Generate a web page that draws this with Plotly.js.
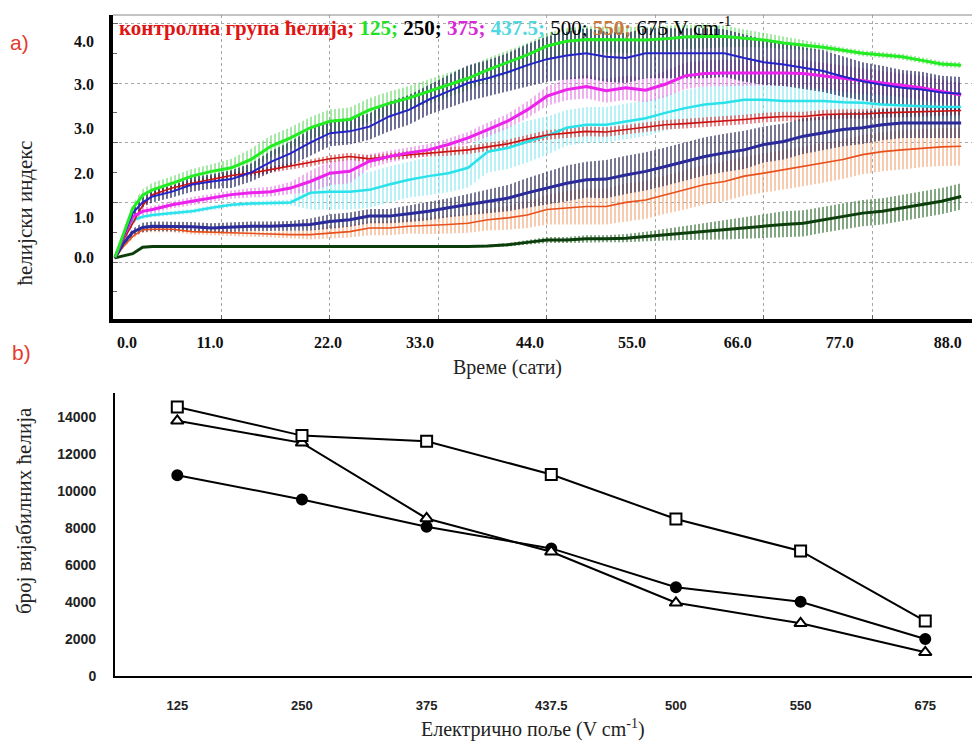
<!DOCTYPE html>
<html>
<head>
<meta charset="utf-8">
<script src="https://cdn.plot.ly/plotly-3.0.1.min.js"></script>
<style>html,body{margin:0;padding:0;background:#fff}</style>
</head>
<body>
<div id="chart" style="width:972px;height:743px"></div>
<script>
// ---------- Panel a: cell index vs time (hours) ----------
const timeH = [0.2,1,2,3,4,6,8,10,12,14,16,18,20,22,24,26,28,30,32,34,36,38,40,42,44,46,48,50,52,54,56,58,60,62,64,66,68,70,72,74,76,78,80,82,84,86];

const ciControl = [0.06,0.35,0.65,0.95,1.13,1.24,1.32,1.39,1.45,1.49,1.55,1.60,1.66,1.73,1.77,1.73,1.77,1.80,1.83,1.85,1.88,1.93,1.98,2.06,2.13,2.16,2.19,2.18,2.22,2.25,2.30,2.32,2.34,2.36,2.39,2.42,2.44,2.44,2.47,2.48,2.48,2.50,2.51,2.53,2.54,2.54];
const errControl = [0.02,0.03,0.04,0.05,0.05,0.05,0.05,0.05,0.05,0.05,0.05,0.05,0.06,0.06,0.06,0.06,0.06,0.06,0.06,0.07,0.07,0.07,0.07,0.07,0.08,0.08,0.08,0.08,0.08,0.08,0.08,0.08,0.08,0.08,0.08,0.08,0.08,0.08,0.08,0.08,0.08,0.08,0.08,0.08,0.08,0.08];

const ci125 = [0.08,0.45,0.90,1.12,1.21,1.32,1.44,1.52,1.58,1.72,1.94,2.08,2.25,2.36,2.39,2.55,2.66,2.75,2.86,2.97,3.08,3.22,3.34,3.47,3.62,3.70,3.73,3.73,3.73,3.72,3.74,3.77,3.78,3.78,3.75,3.72,3.67,3.64,3.60,3.55,3.50,3.47,3.44,3.38,3.32,3.30];
const err125 = [0.02,0.05,0.08,0.10,0.12,0.12,0.12,0.12,0.15,0.18,0.18,0.18,0.18,0.20,0.20,0.20,0.20,0.20,0.20,0.20,0.20,0.20,0.20,0.20,0.22,0.22,0.22,0.22,0.22,0.22,0.22,0.20,0.20,0.18,0.15,0.12,0.10,0.08,0.06,0.05,0.05,0.05,0.05,0.05,0.05,0.05];

const ci250 = [0.08,0.42,0.82,1.00,1.10,1.18,1.30,1.35,1.39,1.50,1.68,1.82,2.00,2.16,2.19,2.27,2.44,2.55,2.72,2.86,3.00,3.08,3.18,3.30,3.40,3.46,3.50,3.44,3.42,3.50,3.50,3.51,3.50,3.50,3.42,3.35,3.31,3.25,3.20,3.11,3.03,2.97,2.92,2.89,2.84,2.82];
const err250 = [0.02,0.04,0.06,0.08,0.10,0.10,0.12,0.12,0.15,0.15,0.18,0.20,0.22,0.22,0.22,0.22,0.25,0.25,0.25,0.28,0.30,0.30,0.32,0.35,0.38,0.40,0.42,0.42,0.42,0.42,0.42,0.42,0.42,0.40,0.40,0.38,0.36,0.35,0.35,0.34,0.32,0.32,0.30,0.30,0.28,0.28];

const ci375 = [0.08,0.40,0.76,0.85,0.88,0.96,1.02,1.07,1.13,1.16,1.18,1.24,1.35,1.49,1.52,1.69,1.77,1.83,1.88,1.97,2.08,2.22,2.36,2.55,2.78,2.89,2.94,2.87,2.92,2.88,2.98,3.12,3.16,3.17,3.17,3.18,3.17,3.16,3.12,3.08,3.03,3.00,2.96,2.92,2.86,2.80];
const err375 = [0.02,0.03,0.05,0.06,0.06,0.06,0.07,0.07,0.07,0.08,0.08,0.10,0.18,0.20,0.20,0.12,0.10,0.10,0.10,0.10,0.10,0.12,0.12,0.14,0.16,0.18,0.20,0.20,0.20,0.20,0.22,0.22,0.22,0.22,0.22,0.22,0.22,0.22,0.22,0.22,0.22,0.20,0.20,0.20,0.20,0.20];

const ci437 = [0.08,0.38,0.70,0.76,0.79,0.82,0.85,0.91,0.96,0.98,0.99,1.00,1.16,1.18,1.18,1.21,1.30,1.38,1.44,1.49,1.58,1.85,1.91,2.02,2.12,2.25,2.30,2.30,2.36,2.41,2.50,2.58,2.64,2.67,2.72,2.72,2.70,2.70,2.70,2.68,2.67,2.64,2.62,2.61,2.60,2.60];
const err437 = [0.02,0.03,0.04,0.04,0.04,0.04,0.04,0.04,0.04,0.04,0.04,0.05,0.28,0.30,0.30,0.30,0.30,0.30,0.32,0.32,0.33,0.35,0.35,0.35,0.32,0.30,0.30,0.30,0.30,0.30,0.30,0.30,0.30,0.28,0.28,0.26,0.25,0.24,0.22,0.22,0.20,0.20,0.20,0.20,0.20,0.20];

const ci500 = [0.07,0.30,0.50,0.58,0.60,0.60,0.59,0.57,0.59,0.60,0.60,0.61,0.63,0.68,0.71,0.77,0.77,0.81,0.85,0.91,0.96,1.02,1.07,1.16,1.24,1.32,1.38,1.39,1.46,1.52,1.60,1.69,1.77,1.83,1.88,1.97,2.02,2.11,2.16,2.22,2.25,2.30,2.33,2.33,2.33,2.33];
const err500 = [0.02,0.04,0.06,0.08,0.08,0.08,0.08,0.08,0.08,0.08,0.08,0.08,0.10,0.12,0.12,0.12,0.12,0.14,0.15,0.16,0.18,0.20,0.22,0.25,0.28,0.30,0.30,0.32,0.32,0.32,0.32,0.32,0.32,0.32,0.32,0.30,0.30,0.30,0.28,0.28,0.27,0.26,0.25,0.25,0.25,0.25];

const ci550 = [0.06,0.25,0.43,0.54,0.55,0.55,0.51,0.50,0.49,0.47,0.46,0.46,0.46,0.49,0.51,0.57,0.57,0.60,0.61,0.63,0.65,0.71,0.74,0.79,0.88,0.91,0.93,0.93,1.00,1.04,1.13,1.21,1.30,1.35,1.44,1.49,1.55,1.60,1.66,1.72,1.80,1.85,1.88,1.91,1.93,1.94];
const err550 = [0.02,0.03,0.04,0.05,0.05,0.05,0.05,0.05,0.05,0.05,0.05,0.06,0.08,0.10,0.10,0.12,0.12,0.12,0.14,0.15,0.16,0.18,0.20,0.22,0.25,0.28,0.30,0.30,0.32,0.32,0.32,0.33,0.33,0.33,0.33,0.33,0.33,0.33,0.33,0.33,0.33,0.33,0.33,0.32,0.32,0.32];

const ci675 = [0.07,0.10,0.14,0.25,0.26,0.26,0.26,0.26,0.26,0.25,0.25,0.26,0.26,0.26,0.25,0.25,0.26,0.26,0.26,0.26,0.26,0.27,0.29,0.33,0.37,0.37,0.39,0.39,0.40,0.43,0.46,0.49,0.51,0.54,0.57,0.60,0.63,0.65,0.71,0.77,0.82,0.85,0.91,0.96,1.02,1.10];
const err675 = [0.01,0.01,0.01,0.01,0.01,0.01,0.01,0.01,0.01,0.01,0.01,0.01,0.01,0.01,0.01,0.01,0.01,0.01,0.01,0.01,0.02,0.02,0.03,0.04,0.05,0.05,0.06,0.06,0.07,0.08,0.10,0.12,0.14,0.16,0.18,0.20,0.22,0.22,0.22,0.22,0.22,0.22,0.22,0.22,0.22,0.22];

// tick labels as printed on panel a (placed where they appear)
const timeTickText = ['0.0','11.0','22.0','33.0','44.0','55.0','66.0','77.0','88.0'];
const timeTickPos  = [1.42,9.83,21.80,31.12,42.28,52.62,63.36,73.70,84.65];
const indexTickText = ['0.0','1.0','2.0','3.0','3.0','4.0'];
const indexTickPos  = [0.07,0.75,1.49,2.24,2.98,3.70];

// ---------- Panel b: viable cells vs electric field ----------
const fieldLabels = ['125','250','375','437.5','500','550','675'];
const cellsSquare   = [14550,13000,12700,10900,8490,6760,2970];
const cellsTriangle = [13800,12610,8520,6720,3960,2850,1280];
const cellsCircle   = [10860,9550,8070,6900,4800,4020,2000];
const cellTicks = [0,2000,4000,6000,8000,10000,12000,14000];
const cellTickText = ['0','2000','4000','6000','8000','10000','12000','14000'];

// ---------- styles ----------
const S = {
  control:{y:ciControl,e:errControl,name:'контролна група ћелија',line:'#cc1212',w:1.6,bar:'#d23c3c'},
  f125:{y:ci125,e:err125,name:'125 V cm-1',line:'#22ec22',w:3,bar:'#6ada6a'},
  f250:{y:ci250,e:err250,name:'250 V cm-1',line:'#2424c8',w:2,bar:'#0c0c4c'},
  f375:{y:ci375,e:err375,name:'375 V cm-1',line:'#ec22ec',w:3,bar:'#e27ae2'},
  f437:{y:ci437,e:err437,name:'437.5 V cm-1',line:'#2ae2ea',w:2.5,bar:'#8ae8f0'},
  f500:{y:ci500,e:err500,name:'500 V cm-1',line:'#2a2a9c',w:3,bar:'#1c1c48'},
  f550:{y:ci550,e:err550,name:'550 V cm-1',line:'#e8501c',w:1.6,bar:'#f2a878'},
  f675:{y:ci675,e:err675,name:'675 V cm-1',line:'#0c3e0c',w:3,bar:'#2e6a2e'}
};
const bandOrder = ['f437','f550','f375','f125','control','f250','f500','f675'];
const lineOrder = ['f437','f550','control','f500','f675','f375','f250','f125'];

const traces = [];
bandOrder.forEach(k => {
  const s = S[k];
  const lo = s.y.map((v,i) => v - s.e[i]);
  const hi = s.y.map((v,i) => v + s.e[i]);
  traces.push({x:timeH, y:lo, xaxis:'x', yaxis:'y', mode:'lines', line:{width:0,color:s.bar},
    showlegend:false, hoverinfo:'skip'});
  traces.push({x:timeH, y:hi, xaxis:'x', yaxis:'y', mode:'lines', line:{width:0,color:s.bar},
    fill:'tonexty', fillcolor:'rgba(0,0,0,0)',
    fillpattern:{shape:'|', fgcolor:s.bar, bgcolor:'rgba(0,0,0,0)', size:4, solidity:0.3},
    showlegend:false, hoverinfo:'skip'});
});
lineOrder.forEach(k => {
  const s = S[k];
  traces.push({x:timeH, y:s.y, xaxis:'x3', yaxis:'y3', mode:'lines', name:s.name,
    line:{color:s.line, width:s.w}, showlegend:false});
});

const mk = (y, sym, size, fill, name) => ({
  x:fieldLabels, y:y, xaxis:'x2', yaxis:'y2', mode:'lines+markers', name:name,
  line:{color:'#000', width:2},
  marker:{symbol:sym, size:size, color:fill, line:{color:'#000', width:2}},
  showlegend:false, cliponaxis:false
});
traces.push(mk(cellsCircle,'circle',10,'#000','●'));
traces.push(mk(cellsTriangle,'triangle-up',11,'#fff','△'));
traces.push(mk(cellsSquare,'square',11,'#fff','□'));

const serif = 'Liberation Serif, Times New Roman, serif';
const sans = 'Liberation Sans, Arial, sans-serif';
const xRange = [0, 87.1];
const yRange = [-0.955, 4.14];

const layout = {
  width:972, height:743,
  margin:{l:113, r:0, t:15, b:67},
  paper_bgcolor:'#fff', plot_bgcolor:'#fff',
  showlegend:false,
  xaxis:{domain:[0,1], anchor:'y', range:xRange, tick0:0, dtick:11,
    showgrid:true, gridcolor:'#a8a8a8', griddash:'dot', gridwidth:1,
    showline:true, linecolor:'#000', linewidth:4, ticks:'inside', ticklen:4, tickcolor:'#666',
    showticklabels:false, zeroline:false, fixedrange:true},
  yaxis:{domain:[0.54,1], anchor:'x', range:yRange, tick0:0, dtick:1,
    showgrid:true, gridcolor:'#a8a8a8', griddash:'dot', gridwidth:1,
    showline:true, linecolor:'#000', linewidth:4, ticks:'inside', ticklen:5, tickcolor:'#666',
    minor:{tick0:0, dtick:0.5, ticks:'inside', ticklen:4, tickcolor:'#666', showgrid:false},
    showticklabels:false, zeroline:false, fixedrange:true},
  xaxis3:{overlaying:'x', anchor:'y', side:'bottom', range:xRange,
    tickmode:'array', tickvals:timeTickPos, ticktext:timeTickText,
    showgrid:false, showline:false, zeroline:false, ticks:'', ticklabelstandoff:12,
    tickfont:{family:serif, size:16, color:'#111', weight:'bold'}, fixedrange:true},
  yaxis3:{overlaying:'y', anchor:'x', side:'left', range:yRange,
    tickmode:'array', tickvals:indexTickPos, ticktext:indexTickText,
    showgrid:false, showline:false, zeroline:false, ticks:'', ticklabelstandoff:18,
    tickfont:{family:serif, size:16, color:'#111', weight:'bold'}, fixedrange:true},
  xaxis2:{domain:[0.0023,1], anchor:'y2', type:'category', range:[-0.5,6.375],
    showgrid:false, showline:true, linecolor:'#000', linewidth:2, ticks:'', zeroline:false,
    ticklabelstandoff:16,
    tickfont:{family:sans, size:13, color:'#222', weight:'bold'}, fixedrange:true},
  yaxis2:{domain:[0,0.428], anchor:'x2', range:[0,15300],
    tickmode:'array', tickvals:cellTicks, ticktext:cellTickText,
    showgrid:false, showline:true, linecolor:'#000', linewidth:2, ticks:'', zeroline:false,
    ticklabelstandoff:14,
    tickfont:{family:sans, size:14, color:'#222', weight:'bold'}, fixedrange:true},
  shapes:[
    {type:'line', xref:'paper', yref:'paper', x0:0, x1:1, y0:1, y1:1, line:{color:'#888', width:1}}
  ],
  annotations:[
    {xref:'paper', yref:'paper', x:0.005, y:1.006, xanchor:'left', yanchor:'top', showarrow:false,
     font:{family:serif, size:21, color:'#000'},
     text:'<span style="color:#e01414"><b>контролна група ћелија;</b></span> '+
          '<span style="color:#22e022"><b>125;</b></span> '+
          '<b>250;</b> '+
          '<span style="color:#d828d8"><b>375;</b></span> '+
          '<span style="color:#50d8e0"><b>437.5;</b></span> '+
          '500; '+
          '<span style="color:#c8783c"><b>550;</b></span> '+
          '675 V cm<sup>-1</sup>'},
    {xref:'paper', yref:'paper', x:-0.1083, y:0.959, xanchor:'center', yanchor:'middle', showarrow:false,
     text:'a)', font:{family:sans, size:21, color:'#e53a2e'}},
    {xref:'paper', yref:'paper', x:-0.1060, y:0.490, xanchor:'center', yanchor:'middle', showarrow:false,
     text:'b)', font:{family:sans, size:21, color:'#e53a2e'}},
    {xref:'paper', yref:'paper', x:-0.1030, y:0.7005, xanchor:'center', yanchor:'middle', showarrow:false,
     textangle:-90, text:'ћелијски индекс', font:{family:serif, size:21, color:'#222'}},
    {xref:'paper', yref:'paper', x:0.4587, y:0.466, xanchor:'center', yanchor:'middle', showarrow:false,
     text:'Време (сати)', font:{family:serif, size:20, color:'#222'}},
    {xref:'paper', yref:'paper', x:-0.1035, y:0.2496, xanchor:'center', yanchor:'middle', showarrow:false,
     textangle:-90, text:'број вијабилних ћелија', font:{family:serif, size:21, color:'#222'}},
    {xref:'paper', yref:'paper', x:0.489, y:-0.0787, xanchor:'center', yanchor:'middle', showarrow:false,
     text:'Електрично поље (V cm<sup>-1</sup>)', font:{family:serif, size:20, color:'#222'}}
  ]
};

Plotly.newPlot('chart', traces, layout, {displayModeBar:false, staticPlot:true});
</script>
</body>
</html>
